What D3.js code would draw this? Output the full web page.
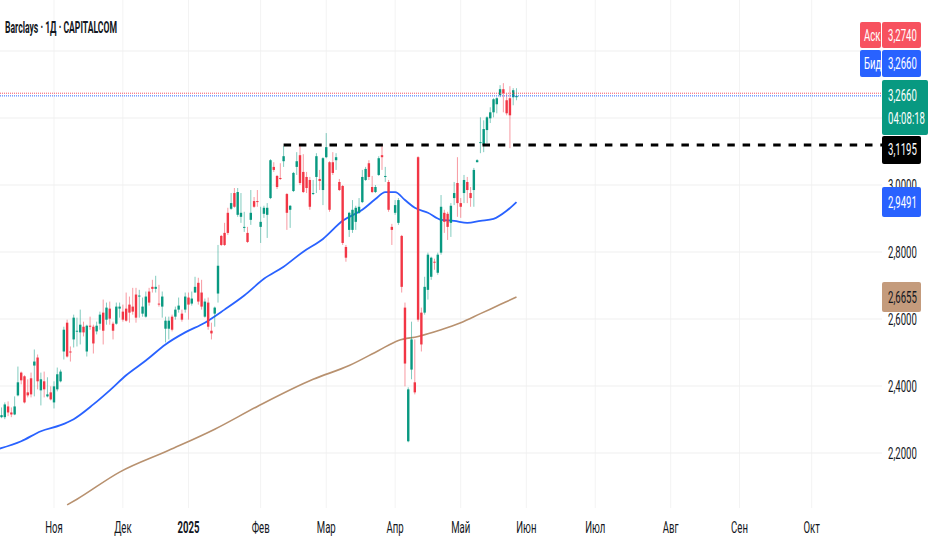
<!DOCTYPE html>
<html lang="ru">
<head>
<meta charset="utf-8">
<script src="https://cdn.jsdelivr.net/npm/d3@7"></script>
<style>
  body { margin: 0; background: #fff; }
  svg text { font-family: Roboto, "Noto Sans", sans-serif; fill: #131722; }
  g.grid line { stroke: #efefef; stroke-width: 1; }
</style>
<title>Barclays</title>
</head>
<body>
<script>
var width = 932, height = 550;
var plotRight = 882, plotBottom = 508;
var squeeze = 0.6; // the screenshot text is horizontally narrow

var title = "Barclays · 1Д · CAPITALCOM";

// month ticks: label and trading-bar index (bar 0 = 1 Nov 2024)
var monthLabels = ["Ноя", "Дек", "2025", "Фев", "Мар", "Апр", "Май", "Июн", "Июл", "Авг", "Сен", "Окт"];
var monthBars = [0, 21, 41, 63, 83, 104, 124, 144, 165, 188, 209, 231];

var priceTicks = [2.2, 2.4, 2.6, 2.8, 3.0, 3.2, 3.4];

// daily candles [open, high, low, close], first one is bar -17
var firstBar = -17;
var candles = [
  [2.286, 2.292, 2.256, 2.262], [2.307, 2.336, 2.304, 2.313], [2.307, 2.351, 2.301, 2.345],
  [2.339, 2.354, 2.310, 2.321], [2.321, 2.336, 2.307, 2.315], [2.315, 2.369, 2.313, 2.339],
  [2.372, 2.458, 2.369, 2.411], [2.440, 2.443, 2.405, 2.417], [2.429, 2.432, 2.348, 2.351],
  [2.381, 2.420, 2.366, 2.372], [2.423, 2.440, 2.366, 2.375], [2.461, 2.509, 2.369, 2.473],
  [2.485, 2.494, 2.390, 2.414], [2.387, 2.440, 2.342, 2.420], [2.414, 2.443, 2.366, 2.390],
  [2.369, 2.426, 2.366, 2.375], [2.381, 2.399, 2.357, 2.360],
  // Nov
  [2.351, 2.414, 2.333, 2.399], [2.390, 2.455, 2.384, 2.435], [2.414, 2.449, 2.411, 2.443],
  [2.503, 2.577, 2.479, 2.568], [2.589, 2.598, 2.485, 2.488], [2.503, 2.518, 2.473, 2.500],
  [2.539, 2.613, 2.515, 2.604], [2.563, 2.604, 2.518, 2.565], [2.560, 2.628, 2.524, 2.583],
  [2.577, 2.592, 2.548, 2.560], [2.503, 2.583, 2.488, 2.580], [2.580, 2.607, 2.568, 2.577],
  [2.577, 2.583, 2.497, 2.527], [2.563, 2.592, 2.554, 2.580], [2.586, 2.622, 2.568, 2.613],
  [2.619, 2.658, 2.524, 2.565], [2.598, 2.649, 2.583, 2.634], [2.631, 2.652, 2.583, 2.601],
  [2.586, 2.592, 2.539, 2.565], [2.586, 2.649, 2.583, 2.637], [2.631, 2.649, 2.604, 2.637],
  // Dec
  [2.622, 2.643, 2.592, 2.598], [2.631, 2.679, 2.592, 2.595], [2.643, 2.667, 2.589, 2.619],
  [2.637, 2.693, 2.613, 2.622], [2.673, 2.693, 2.589, 2.604], [2.667, 2.687, 2.604, 2.670],
  [2.616, 2.664, 2.607, 2.637], [2.607, 2.682, 2.604, 2.667], [2.682, 2.693, 2.640, 2.649],
  [2.696, 2.717, 2.679, 2.690], [2.690, 2.729, 2.679, 2.696], [2.646, 2.702, 2.637, 2.643],
  [2.637, 2.682, 2.604, 2.667], [2.571, 2.607, 2.530, 2.595], [2.571, 2.607, 2.539, 2.595],
  [2.607, 2.613, 2.563, 2.568], [2.607, 2.637, 2.598, 2.628], [2.628, 2.664, 2.619, 2.640],
  [2.616, 2.628, 2.592, 2.598], [2.628, 2.679, 2.619, 2.667],
  // Jan
  [2.664, 2.679, 2.598, 2.643], [2.646, 2.682, 2.640, 2.661], [2.679, 2.726, 2.679, 2.696],
  [2.708, 2.723, 2.643, 2.652], [2.679, 2.717, 2.628, 2.637], [2.607, 2.661, 2.604, 2.652],
  [2.649, 2.664, 2.568, 2.577], [2.565, 2.589, 2.539, 2.557], [2.616, 2.637, 2.577, 2.634],
  [2.676, 2.821, 2.649, 2.759], [2.848, 2.851, 2.818, 2.821], [2.857, 2.887, 2.818, 2.821],
  [2.917, 2.932, 2.851, 2.857], [2.929, 2.976, 2.926, 2.946], [2.976, 2.991, 2.932, 2.935],
  [2.911, 2.991, 2.905, 2.979], [2.905, 2.976, 2.887, 2.917], [2.872, 2.920, 2.860, 2.875],
  [2.857, 2.875, 2.827, 2.830], [2.896, 2.985, 2.881, 2.917], [2.952, 2.964, 2.932, 2.935],
  [2.952, 2.985, 2.935, 2.949],
  // Feb
  [2.875, 2.935, 2.827, 2.890], [2.914, 2.938, 2.902, 2.932], [2.911, 2.946, 2.842, 2.932],
  [2.961, 3.077, 2.958, 3.074], [3.054, 3.068, 3.039, 3.045], [3.027, 3.030, 2.988, 2.994],
  [3.021, 3.065, 3.015, 3.018], [3.071, 3.116, 3.054, 3.086], [2.973, 2.976, 2.866, 2.917],
  [2.926, 2.940, 2.872, 2.938], [2.982, 3.039, 2.979, 3.036], [3.054, 3.098, 3.030, 3.071],
  [3.089, 3.116, 3.000, 3.006], [3.039, 3.092, 2.976, 2.979], [3.024, 3.039, 2.976, 2.991],
  [3.015, 3.024, 2.926, 2.935], [2.973, 3.015, 2.970, 2.976], [3.024, 3.095, 2.976, 3.086],
  [3.018, 3.045, 2.985, 3.012], [2.985, 3.083, 2.940, 3.080],
  // Mar
  [3.083, 3.155, 3.080, 3.113], [3.068, 3.071, 2.920, 2.926], [3.068, 3.098, 3.030, 3.036],
  [3.074, 3.095, 3.045, 3.083], [3.009, 3.018, 2.982, 2.985], [2.997, 3.000, 2.821, 2.827],
  [2.815, 2.821, 2.771, 2.783], [2.866, 2.920, 2.845, 2.917], [2.866, 2.955, 2.857, 2.926],
  [2.890, 2.938, 2.866, 2.932], [2.917, 2.961, 2.914, 2.935], [2.949, 3.045, 2.946, 3.024],
  [3.015, 3.054, 3.012, 3.048], [3.065, 3.074, 3.015, 3.024], [2.994, 3.027, 2.976, 2.979],
  [2.979, 3.000, 2.976, 2.994], [3.030, 3.086, 3.027, 3.080], [3.089, 3.119, 3.045, 3.083],
  [3.024, 3.054, 3.009, 3.027], [3.009, 3.015, 2.920, 2.926], [2.875, 2.884, 2.821, 2.866],
  // Apr
  [2.917, 2.955, 2.911, 2.940], [2.887, 2.961, 2.881, 2.955], [2.848, 2.851, 2.679, 2.696],
  [2.634, 2.649, 2.399, 2.467], [2.235, 2.396, 2.232, 2.390], [2.449, 2.592, 2.420, 2.539],
  [2.411, 2.539, 2.375, 2.381], [3.083, 3.086, 2.592, 2.598], [2.619, 2.634, 2.503, 2.524],
  [2.619, 2.726, 2.613, 2.696], [2.687, 2.798, 2.658, 2.792], [2.726, 2.786, 2.717, 2.783],
  [2.771, 2.780, 2.747, 2.768], [2.738, 2.798, 2.732, 2.792], [2.798, 2.970, 2.792, 2.935],
  [2.917, 2.926, 2.857, 2.890], [2.914, 2.920, 2.836, 2.875], [2.887, 2.946, 2.845, 2.938],
  [2.961, 3.009, 2.940, 2.976], [3.006, 3.083, 2.905, 2.946],
  // May
  [2.946, 2.961, 2.902, 2.935], [2.976, 3.030, 2.946, 3.015], [3.009, 3.024, 2.946, 2.985],
  [2.976, 2.994, 2.935, 2.961], [2.985, 3.051, 2.935, 3.045], [3.068, 3.077, 3.068, 3.074],
  [3.125, 3.202, 3.095, 3.128], [3.119, 3.193, 3.098, 3.167], [3.164, 3.205, 3.125, 3.202],
  [3.199, 3.232, 3.185, 3.217], [3.217, 3.259, 3.202, 3.256], [3.241, 3.262, 3.214, 3.259],
  [3.268, 3.298, 3.262, 3.286], [3.286, 3.304, 3.217, 3.274], [3.253, 3.274, 3.208, 3.214],
  [3.259, 3.295, 3.110, 3.208], [3.262, 3.289, 3.238, 3.283], [3.262, 3.289, 3.253, 3.266]
];

// moving averages at these bars
var maFastBars = [-17, -10, -4, 2, 6, 12, 17, 22, 28, 34, 40, 46, 52, 58, 64, 70, 76, 82, 88, 94, 98, 101, 104, 107, 110, 114, 118, 122, 126, 130, 134, 138, 141];
var maFastValues = [2.212, 2.235, 2.265, 2.283, 2.301, 2.345, 2.387, 2.432, 2.476, 2.524, 2.560, 2.589, 2.628, 2.670, 2.720, 2.756, 2.801, 2.839, 2.893, 2.926, 2.958, 2.979, 2.979, 2.955, 2.932, 2.917, 2.896, 2.893, 2.887, 2.893, 2.899, 2.923, 2.9491];
var maSlowBars = [4, 7, 20, 35, 49, 62, 79, 90, 99, 105, 111, 118, 124, 130, 136, 141];
var maSlowValues = [2.045, 2.062, 2.143, 2.208, 2.271, 2.339, 2.420, 2.461, 2.506, 2.536, 2.548, 2.568, 2.589, 2.616, 2.643, 2.6655];

var askPrice = 3.2740, bidPrice = 3.2660, lastPrice = 3.2660, countdown = "04:08:18";
var levelPrice = 3.1195, levelStartBar = 70;

var upColor = "#089981", downColor = "#f23645";
var fastColor = "#2962ff", slowColor = "#b8916f";

var x = d3.scaleLinear().domain([0, 231]).range([54, 811.7]);
var y = d3.scaleLinear().domain([2.2, 3.0]).range([453, 185]);
var fmt = function(v) { return d3.format(".4f")(v).replace(".", ","); };

var svg = d3.select("body").append("svg").attr("width", width).attr("height", height);

svg.append("defs").append("clipPath").attr("id", "plot")
  .append("rect").attr("width", plotRight).attr("height", plotBottom);

// grid
var grid = svg.append("g").attr("class", "grid");
grid.selectAll("line.v").data(monthBars).enter().append("line")
  .attr("x1", function(d){ return x(d); }).attr("x2", function(d){ return x(d); })
  .attr("y1", 0).attr("y2", plotBottom).style("stroke", "#f3f3f3");
grid.selectAll("line.h").data(priceTicks).enter().append("line")
  .attr("x1", 0).attr("x2", plotRight)
  .attr("y1", function(d){ return y(d); }).attr("y2", function(d){ return y(d); });

function label(g, px, py, str, opts) {
  opts = opts || {};
  var t = g.append("text")
    .attr("transform", "translate(" + px + "," + py + ") scale(" + (opts.sx || squeeze) + ",1)")
    .attr("dy", "0.35em")
    .attr("text-anchor", opts.anchor || "start")
    .style("font-size", (opts.size || 16) + "px")
    .text(str);
  if (opts.weight) t.style("font-weight", opts.weight);
  if (opts.color) t.style("fill", opts.color);
  return t;
}

// title
svg.append("text").attr("x", 5).attr("y", 33)
  .attr("textLength", 112).attr("lengthAdjust", "spacingAndGlyphs")
  .style("font-size", "17px").style("font-weight", 700)
  .text(title);

var plot = svg.append("g").attr("clip-path", "url(#plot)");

// moving averages
var line = d3.line().curve(d3.curveMonotoneX)
  .x(function(d){ return x(d[0]); }).y(function(d){ return y(d[1]); });
plot.append("path").datum(d3.zip(maSlowBars, maSlowValues))
  .attr("d", line).attr("fill", "none").attr("stroke", slowColor).attr("stroke-width", 1.6);
plot.append("path").datum(d3.zip(maFastBars, maFastValues))
  .attr("d", line).attr("fill", "none").attr("stroke", fastColor).attr("stroke-width", 1.8);

// candles
var bars = plot.append("g").selectAll("g").data(candles).enter().append("g");
bars.append("line")
  .attr("x1", function(d, i){ return x(firstBar + i); })
  .attr("x2", function(d, i){ return x(firstBar + i); })
  .attr("y1", function(d){ return y(d[1]); })
  .attr("y2", function(d){ return y(d[2]); })
  .attr("stroke", function(d){ return d[3] >= d[0] ? upColor : downColor; })
  .attr("stroke-opacity", 0.5).attr("stroke-width", 1);
bars.append("rect")
  .attr("x", function(d, i){ return x(firstBar + i) - 1.2; })
  .attr("width", 2.4)
  .attr("y", function(d){ return y(Math.max(d[0], d[3])); })
  .attr("height", function(d){ return Math.max(1, Math.abs(y(d[0]) - y(d[3]))); })
  .attr("fill", function(d){ return d[3] >= d[0] ? upColor : downColor; });

// ask / bid dotted lines
plot.append("line").attr("x1", 0).attr("x2", plotRight)
  .attr("y1", y(askPrice)).attr("y2", y(askPrice))
  .attr("stroke", "#f7525f").attr("stroke-dasharray", "1,1");
plot.append("line").attr("x1", 0).attr("x2", plotRight)
  .attr("y1", y(bidPrice)).attr("y2", y(bidPrice))
  .attr("stroke", fastColor).attr("stroke-dasharray", "1,1");

// horizontal level
plot.append("line").attr("x1", x(levelStartBar)).attr("x2", plotRight)
  .attr("y1", y(levelPrice)).attr("y2", y(levelPrice))
  .attr("stroke", "#000").attr("stroke-width", 3).attr("stroke-dasharray", "7.5,7.8");

// right-hand labels
var boxes = [
  { top: 22, bottom: 48, fill: "#f7525f", name: "Аск", text: [fmt(askPrice)] },
  { top: 50, bottom: 77, fill: fastColor, name: "Бид", text: [fmt(bidPrice)] },
  { top: y(lastPrice) - 16, bottom: y(lastPrice) + 39, fill: upColor, wide: true, text: [fmt(lastPrice), countdown] }
];
var greenBottom = boxes[2].bottom;
var lvTop = Math.max(y(levelPrice) - 14, greenBottom + 1);
boxes.push({ top: lvTop, bottom: lvTop + 28, fill: "#000", text: [fmt(levelPrice)] });
var maBoxes = [
  { top: y(maFastValues[maFastValues.length - 1]) - 15, bottom: y(maFastValues[maFastValues.length - 1]) + 15, fill: fastColor, text: [fmt(maFastValues[maFastValues.length - 1])] },
  { top: y(maSlowValues[maSlowValues.length - 1]) - 15, bottom: y(maSlowValues[maSlowValues.length - 1]) + 15, fill: "#c49b7c", dark: true, text: [fmt(maSlowValues[maSlowValues.length - 1])] }
];

var axis = svg.append("g");
priceTicks.forEach(function(p) {
  var py = y(p);
  var hidden = boxes.some(function(b){ return py >= b.top - 6 && py <= b.bottom + 6; });
  if (!hidden) label(axis, 888, py, fmt(p));
});

var lab = svg.append("g");
boxes.concat(maBoxes).forEach(function(b) {
  lab.append("rect").attr("x", 882).attr("y", b.top)
    .attr("width", b.wide ? 46 : 39).attr("height", b.bottom - b.top)
    .attr("rx", 2).attr("fill", b.fill);
  if (b.name) {
    lab.append("rect").attr("x", 860).attr("y", b.top)
      .attr("width", 21).attr("height", b.bottom - b.top)
      .attr("rx", 2).attr("fill", b.fill);
    label(lab, 864, (b.top + b.bottom) / 2, b.name, { color: "#fff" });
  }
  var col = b.dark ? "#131722" : "#fff";
  if (b.text.length === 1) {
    label(lab, 888, (b.top + b.bottom) / 2, b.text[0], { color: col });
  } else {
    label(lab, 888, b.top + 16, b.text[0], { color: col });
    label(lab, 888, b.top + 39, b.text[1], { color: col });
  }
});

// time axis
var tx = svg.append("g");
monthLabels.forEach(function(m, i) {
  label(tx, x(monthBars[i]), 527, m, { anchor: "middle", weight: m === "2025" ? 700 : null });
});
</script>
</body>
</html>
